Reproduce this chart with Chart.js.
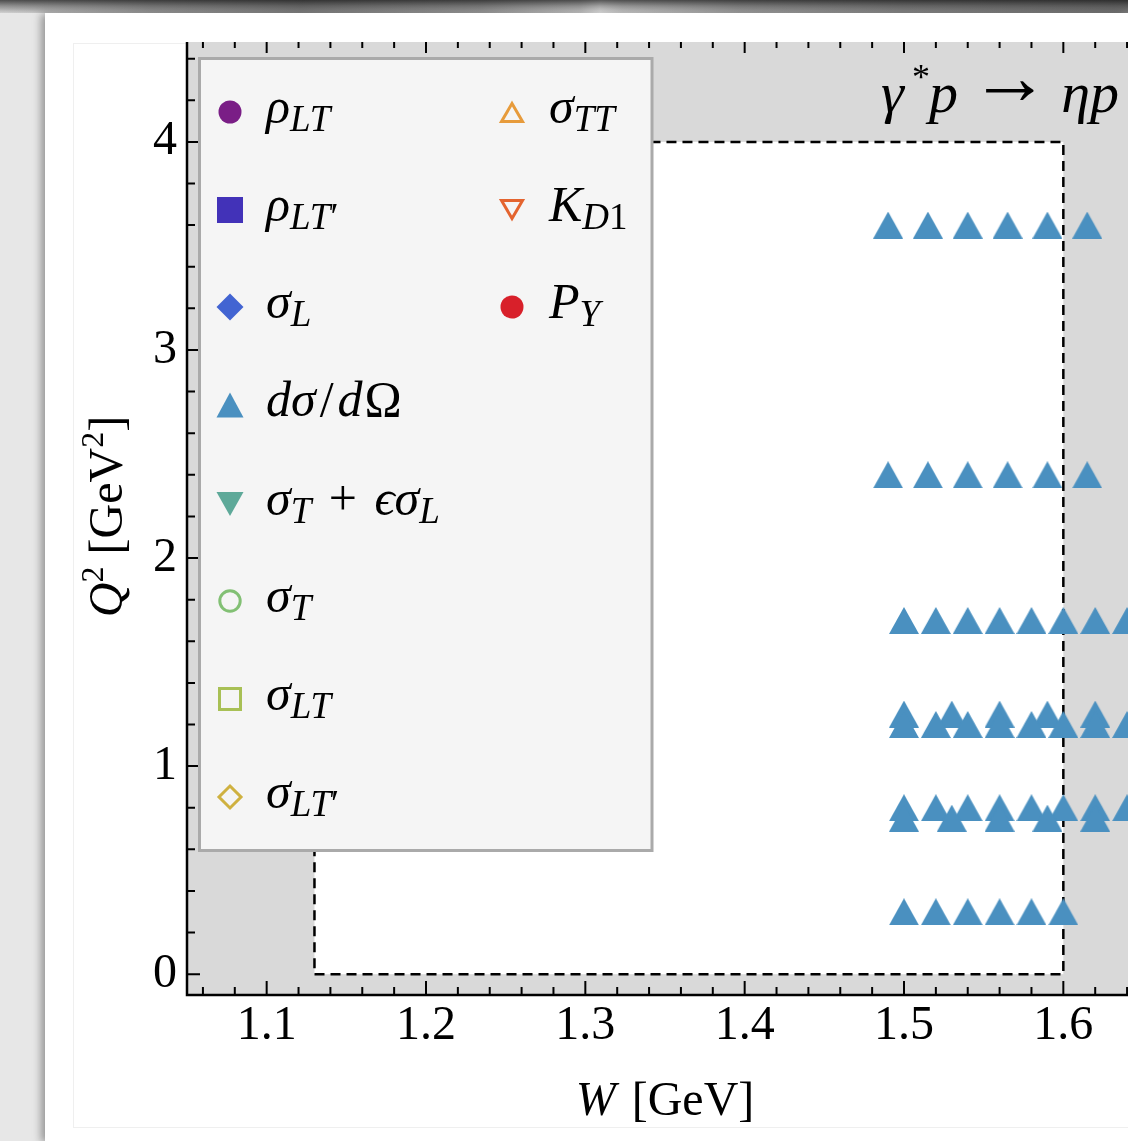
<!DOCTYPE html>
<html><head><meta charset="utf-8">
<script src="https://cdn.jsdelivr.net/npm/chart.js@4.4.1/dist/chart.umd.min.js"></script>
<style>
html,body{margin:0;padding:0;width:1128px;height:1141px;overflow:hidden;background:#e7e7e7;}
#bar{position:absolute;left:0;top:0;width:1128px;height:13px;
 background:linear-gradient(to bottom,rgba(20,20,20,.7) 0%,rgba(60,60,60,.45) 45%,rgba(200,200,200,.15) 100%),
 linear-gradient(to right,#d4d4d4 0px,#9a9a9a 150px,#7c7c7c 300px,#9c9c9c 480px,#d0d0d0 580px,#f4f4f4 600px,#d8d8d8 622px,#a4a4a4 740px,#858585 900px,#6e6e6e 1128px);}
#page{position:absolute;left:45px;top:13px;width:1083px;height:1128px;background:#fff;box-shadow:-4px 1px 8px rgba(0,0,0,.35);}
#inner{position:absolute;left:73px;top:43px;width:1060px;height:1083px;border:1px solid #efefef;border-right:none;}
#c{position:absolute;left:0;top:0;}
#ov{position:absolute;left:0;top:0;pointer-events:none;}
#ov text{white-space:pre;}
</style></head>
<body>
<div id="bar"></div><div id="page"></div><div id="inner"></div>
<canvas id="c" width="1158" height="1141"></canvas>
<svg id="ov" xmlns="http://www.w3.org/2000/svg" width="1128" height="1141" font-family="'Liberation Serif','Times New Roman',serif"></svg>
<script>
// ---------- data ----------
const seriesLabels = ['ρLT', 'ρLT′', 'σL', 'dσ/dΩ', 'σT + ϵσL', 'σT', 'σLT', 'σLT′', 'σTT', 'KD1', 'PY'];
const xTickValues = [1.1, 1.2, 1.3, 1.4, 1.5, 1.6];
const xTickLabels = ['1.1', '1.2', '1.3', '1.4', '1.5', '1.6'];
const yTickValues = [0, 1, 2, 3, 4];
const yTickLabels = ['0', '1', '2', '3', '4'];
// dσ/dΩ measurements: Q² of each row and the W values in that row
const rowQ2 = [3.6, 2.4, 1.7, 1.25, 1.2, 0.8, 0.75, 0.3];
const rowW36 = [1.49, 1.515, 1.54, 1.565, 1.59, 1.615];
const rowW24 = [1.49, 1.515, 1.54, 1.565, 1.59, 1.615];
const rowW17 = [1.50, 1.52, 1.54, 1.56, 1.58, 1.60, 1.62, 1.64];
const rowW125 = [1.50, 1.53, 1.56, 1.59, 1.62];
const rowW12 = [1.50, 1.52, 1.54, 1.56, 1.58, 1.60, 1.62, 1.64];
const rowW08 = [1.50, 1.52, 1.54, 1.56, 1.58, 1.60, 1.62, 1.64];
const rowW075 = [1.50, 1.53, 1.56, 1.59, 1.62];
const rowW03 = [1.50, 1.52, 1.54, 1.56, 1.58, 1.60];
const rowW = [rowW36, rowW24, rowW17, rowW125, rowW12, rowW08, rowW075, rowW03];
// kinematic region (white box)
const regionW = [1.13, 1.6];
const regionQ2 = [0, 4];

// ---------- styles ----------
const seriesColors = ['#7a1e86', '#4232b8', '#4264d2', '#4a90c0', '#5ea999', '#82c074', '#a8c055', '#cfb140', '#e79b3b', '#e4642f', '#d8202a'];
const seriesShapes = ['circle', 'rect', 'diamond', 'triangle', 'triangleDown', 'circle', 'rect', 'diamond', 'triangle', 'triangleDown', 'circle'];
const seriesFilled = [true, true, true, true, true, false, false, false, false, false, true];
const legendParts = [
  [['ρ','i'],['LT','si']],
  [['ρ','i'],['LT','si'],['′','sr']],
  [['σ','i'],['L','si']],
  [['d','i'],['σ','i'],['/','r',4],['d','i',4],['Ω','r',2]],
  [['σ','i'],['T','si'],[' + ','r',5],['ϵσ','i',5],['L','si']],
  [['σ','i'],['T','si']],
  [['σ','i'],['LT','si']],
  [['σ','i'],['LT','si'],['′','sr']],
  [['σ','i'],['TT','si']],
  [['K','i'],['D','si'],['1','sr']],
  [['P','i'],['Y','si']]
];

// triangle marker centred on its bounding box
function triCanvas(w, h, color) {
  const c = document.createElement('canvas'); c.width = w; c.height = h;
  const g = c.getContext('2d'); g.fillStyle = color;
  g.beginPath(); g.moveTo(w / 2, 0); g.lineTo(w, h); g.lineTo(0, h); g.closePath(); g.fill();
  return c;
}
const triMarker = triCanvas(30, 27, seriesColors[3]);

const dsigmaPoints = [];
rowQ2.forEach((q, r) => rowW[r].forEach(w => dsigmaPoints.push({x: w, y: q})));

const regionPlugin = {
  id: 'region',
  beforeDatasetsDraw(chart) {
    const ctx = chart.ctx, a = chart.chartArea, xs = chart.scales.x, ys = chart.scales.y;
    ctx.save();
    ctx.fillStyle = '#d9d9d9';
    ctx.fillRect(a.left, a.top, a.right - a.left, a.bottom - a.top);
    const x0 = xs.getPixelForValue(regionW[0]), x1 = xs.getPixelForValue(regionW[1]);
    const y0 = ys.getPixelForValue(regionQ2[0]), y1 = ys.getPixelForValue(regionQ2[1]);
    ctx.fillStyle = '#ffffff';
    ctx.fillRect(x0, y1, x1 - x0, y0 - y1);
    ctx.setLineDash([10, 6]); ctx.lineWidth = 2.5; ctx.strokeStyle = '#000';
    ctx.strokeRect(x0, y1, x1 - x0, y0 - y1);
    ctx.restore();
  }
};

const framePlugin = {
  id: 'frame',
  afterDatasetsDraw(chart) {
    const ctx = chart.ctx, a = chart.chartArea, xs = chart.scales.x, ys = chart.scales.y;
    ctx.save();
    ctx.strokeStyle = '#000'; ctx.lineWidth = 2; ctx.lineCap = 'butt';
    ctx.beginPath();
    for (let k = 106; k <= 164; k += 2) {
      const px = xs.getPixelForValue(k / 100);
      const major = (k % 10 === 0);
      ctx.moveTo(px, a.bottom); ctx.lineTo(px, a.bottom - (major ? 14 : 8));
      ctx.moveTo(px, a.top); ctx.lineTo(px, a.top + (major ? 11 : 6));
    }
    for (let k = 0; k <= 22; k++) {
      const py = ys.getPixelForValue(k / 5);
      const major = (k % 5 === 0);
      ctx.moveTo(a.left, py); ctx.lineTo(a.left + (major ? 13 : 8), py);
    }
    ctx.stroke();
    ctx.lineWidth = 2.5;
    ctx.beginPath();
    ctx.moveTo(a.left, a.top); ctx.lineTo(a.left, a.bottom + 1.25);
    ctx.moveTo(a.left - 1.25, a.bottom); ctx.lineTo(a.right, a.bottom);
    ctx.stroke();
    ctx.restore();
  }
};

const tickFont = {family: "'Liberation Serif','Times New Roman',serif", size: 48};

const chart = new Chart(document.getElementById('c'), {
  type: 'scatter',
  data: {
    datasets: seriesLabels.map((lab, i) => ({
      label: lab,
      data: i === 3 ? dsigmaPoints : [],
      pointStyle: i === 3 ? triMarker : 'circle',
      pointRadius: 15,
      backgroundColor: seriesColors[i],
      borderColor: seriesColors[i],
      borderWidth: 0
    }))
  },
  options: {
    responsive: false, animation: false, devicePixelRatio: 1, events: [],
    layout: {padding: {top: 42, left: 0, right: 10, bottom: 0}},
    plugins: {legend: {display: false}, tooltip: {enabled: false}},
    scales: {
      x: {
        type: 'linear', min: 1.05, max: 1.65,
        grid: {display: false, drawTicks: false, tickLength: 0},
        border: {display: false},
        ticks: {font: tickFont, color: '#000', padding: 3, maxRotation: 0, autoSkip: false,
                callback: (v, i) => xTickLabels[i]},
        afterBuildTicks: s => { s.ticks = xTickValues.map(v => ({value: v})); },
        afterFit: s => { s.height = 146; }
      },
      y: {
        type: 'linear', min: -0.1, max: 4.48,
        grid: {display: false, drawTicks: false, tickLength: 0},
        border: {display: false},
        ticks: {font: tickFont, color: '#000', padding: 10, autoSkip: false,
                callback: (v, i) => yTickLabels[i]},
        afterBuildTicks: s => { s.ticks = yTickValues.map(v => ({value: v})); },
        afterFit: s => { s.width = 187; }
      }
    }
  },
  plugins: [regionPlugin, framePlugin]
});

// ---------- overlay: legend and titles ----------
const NS = 'http://www.w3.org/2000/svg';
const svg = document.getElementById('ov');
function el(name, attrs, parent) {
  const e = document.createElementNS(NS, name);
  for (const k in attrs) e.setAttribute(k, attrs[k]);
  (parent || svg).appendChild(e); return e;
}
function addText(x, y, parts, size, subSize, subDy, supDy, anchor, extra) {
  const t = el('text', Object.assign({x: x, y: y, 'font-size': size, fill: '#000'}, anchor ? {'text-anchor': anchor} : {}, extra || {}));
  let shift = 0;
  parts.forEach(([s, k, dx]) => {
    let target = 0, fs = size;
    if (k[0] === 's') { target = subDy; fs = subSize; }
    else if (k[0] === 'p') { target = supDy; fs = subSize; }
    const sp = el('tspan', {'font-size': fs}, t);
    if (k.endsWith('i')) sp.setAttribute('font-style', 'italic');
    if (target !== shift) { sp.setAttribute('dy', target - shift); shift = target; }
    if (dx) sp.setAttribute('dx', dx);
    sp.textContent = s;
  });
  return t;
}
function marker(cx, cy, shape, filled, color) {
  const common = filled ? {fill: color, stroke: 'none'} : {fill: 'none', stroke: color, 'stroke-width': 3, 'stroke-linejoin': 'miter'};
  let pts;
  if (shape === 'circle') {
    el('circle', Object.assign({cx: cx, cy: cy, r: filled ? 11.5 : 10.2}, common)); return;
  }
  if (shape === 'rect') {
    const s = filled ? 26 : 21;
    el('rect', Object.assign({x: cx - s / 2, y: cy - s / 2, width: s, height: s}, common)); return;
  }
  if (shape === 'diamond') {
    const h = filled ? 13.5 : 11;
    pts = [[0, -h], [h, 0], [0, h], [-h, 0]];
  } else if (shape === 'triangle') {
    pts = filled ? [[0, -12.5], [13.5, 12.5], [-13.5, 12.5]] : [[0, -8.5], [10.5, 9.5], [-10.5, 9.5]];
  } else {
    pts = filled ? [[-13.5, -12], [13.5, -12], [0, 12]] : [[-10.5, -9.5], [10.5, -9.5], [0, 8.5]];
  }
  el('polygon', Object.assign({points: pts.map(p => (cx + p[0]) + ',' + (cy + p[1])).join(' ')}, common));
}

// legend box
el('rect', {x: 199.5, y: 58.5, width: 452.5, height: 792, fill: '#f5f5f5', stroke: '#aaaaaa', 'stroke-width': 3});
const rowY = [112, 210, 307, 405, 504, 601, 699, 797];
chart.data.datasets.forEach((ds, i) => {
  const col = i < 8 ? 0 : 1, row = i < 8 ? i : i - 8;
  const mx = col === 0 ? 230 : 512, tx = col === 0 ? 266 : 549, cy = rowY[row];
  marker(mx, cy, seriesShapes[i], seriesFilled[i], ds.borderColor);
  addText(tx, cy + 11, legendParts[i], 50, 37, 7.5, -19);
});

// plot label  γ* p → η p
addText(881, 112, [['γ','i']], 58, 36, 8, -20);
addText(912, 89, [['*','r']], 36, 36, 0, 0);
addText(929, 112, [['p','i']], 58, 36, 8, -20);
addText(970, 104, [['→','r']], 80, 36, 0, 0);
addText(1119, 112, [['ηp','i']], 58, 36, 8, -20, 'end');
// axis titles
const a = chart.chartArea;
addText((a.left + a.right) / 2, 1115, [['W','i'],[' [GeV]','r',4]], 48, 34, 8, -19, 'middle');
addText(0, 0, [['Q','i'],['2','pr'],[' [GeV','r'],['2','pr'],[']','r']], 48, 32, 8, -19, 'middle',
  {transform: 'translate(122,' + ((a.top + a.bottom) / 2 - 2) + ') rotate(-90)'});
</script>
</body></html>
